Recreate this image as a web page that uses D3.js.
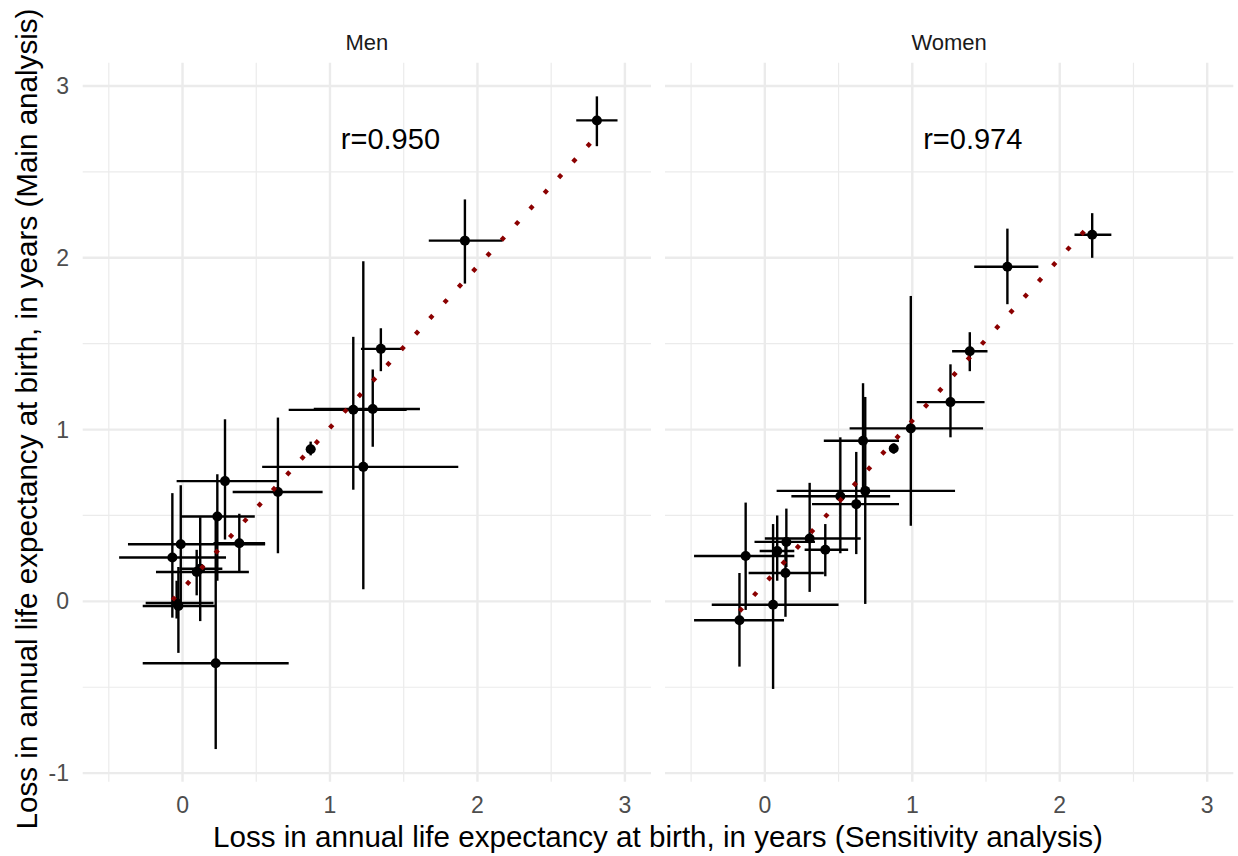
<!DOCTYPE html>
<html>
<head>
<meta charset="utf-8">
<script src="https://cdnjs.cloudflare.com/ajax/libs/d3/7.8.5/d3.min.js"></script>
<style>
  body { margin: 0; background: #fff; }
  text { font-family: "Liberation Sans", Arial, sans-serif; }
</style>
</head>
<body>
<svg width="1238" height="856"></svg>
<script>

// facet names and correlation labels
var panels = ["Men", "Women"];
var rLabels = ["r=0.950", "r=0.974"];

// Men: sensitivity (x) vs main (y) with 95% intervals
var menX   = [2.81, 1.915, 1.345, 1.158, 1.29, 1.226, 0.869, 0.647, 0.288, 0.236, 0.385, -0.012, -0.069, 0.096, 0.12, -0.028, -0.04, 0.225];
var menY   = [2.80, 2.10, 1.47, 1.115, 1.12, 0.783, 0.886, 0.637, 0.70, 0.494, 0.338, 0.332, 0.255, 0.171, 0.19, -0.027, -0.01, -0.36];
var menXlo = [2.67, 1.67, 1.21, 0.72, 0.89, 0.54, 0.84, 0.34, -0.04, -0.01, 0.21, -0.37, -0.43, -0.18, -0.02, -0.27, -0.25, -0.27];
var menXhi = [2.95, 2.17, 1.50, 1.52, 1.61, 1.87, 0.90, 0.95, 0.64, 0.49, 0.56, 0.56, 0.295, 0.45, 0.27, 0.22, 0.21, 0.72];
var menYlo = [2.65, 1.85, 1.34, 0.65, 0.90, 0.07, 0.85, 0.28, 0.36, 0.12, 0.165, -0.01, -0.095, 0.035, -0.115, -0.30, -0.10, -0.86];
var menYhi = [2.94, 2.34, 1.59, 1.54, 1.35, 1.98, 0.93, 1.07, 1.06, 0.74, 0.51, 0.676, 0.63, 0.30, 0.49, 0.20, 0.12, 0.50];

// Women
var womX   = [2.22, 1.645, 1.39, 1.259, 0.99, 0.874, 0.666, 0.681, 0.512, 0.62, 0.304, 0.41, 0.146, 0.084, 0.14, -0.13, 0.056, -0.172];
var womY   = [2.134, 1.948, 1.456, 1.16, 1.007, 0.89, 0.935, 0.643, 0.612, 0.566, 0.366, 0.30, 0.346, 0.293, 0.165, 0.264, -0.02, -0.11];
var womXlo = [2.10, 1.42, 1.27, 1.03, 0.575, 0.85, 0.40, 0.08, 0.18, 0.32, 0.0, 0.27, -0.07, -0.035, -0.11, -0.48, -0.36, -0.48];
var womXhi = [2.35, 1.855, 1.51, 1.49, 1.48, 0.90, 0.91, 1.29, 0.85, 0.91, 0.65, 0.565, 0.34, 0.20, 0.40, 0.20, 0.50, 0.13];
var womYlo = [2.0, 1.73, 1.34, 0.955, 0.44, 0.86, 0.62, -0.015, 0.28, 0.275, 0.055, 0.146, 0.20, 0.12, -0.09, -0.05, -0.51, -0.38];
var womYhi = [2.26, 2.17, 1.567, 1.38, 1.778, 0.92, 1.27, 1.19, 0.955, 0.87, 0.69, 0.45, 0.54, 0.50, 0.33, 0.575, 0.45, 0.165];

var xTicks = [0, 1, 2, 3];
var yTicks = [-1, 0, 1, 2, 3];

var svg = d3.select("svg");

var panelTop = 62.7, panelBottom = 781.7;
var panelW = 568.3, gap = 14, left0 = 82.7;

var y = d3.scaleLinear().domain([-1.05, 3.136]).range([panelBottom, panelTop]);

function build(xs, ys, xlo, xhi, ylo, yhi) {
    return xs.map(function (d, i) {
        return {x: d, y: ys[i], xlo: xlo[i], xhi: xhi[i], ylo: ylo[i], yhi: yhi[i]};
    });
}

var data = [
    build(menX, menY, menXlo, menXhi, menYlo, menYhi),
    build(womX, womY, womXlo, womXhi, womYlo, womYhi)
];

var grid = "#EBEBEB";

panels.forEach(function (name, p) {

    var x0 = left0 + p * (panelW + gap);
    var x = d3.scaleLinear().domain([-0.677, 3.177]).range([x0, x0 + panelW]);
    var g = svg.append("g").attr("id", name);
    var pts = data[p];

    // minor grid
    var xMinor = [-0.5, 0.5, 1.5, 2.5];
    var yMinor = [-0.5, 0.5, 1.5, 2.5];
    g.selectAll(".xmin").data(xMinor).enter().append("line")
        .attr("x1", function (d) { return x(d); }).attr("x2", function (d) { return x(d); })
        .attr("y1", panelTop).attr("y2", panelBottom)
        .attr("stroke", grid).attr("stroke-width", 1.2);
    g.selectAll(".ymin").data(yMinor).enter().append("line")
        .attr("y1", function (d) { return y(d); }).attr("y2", function (d) { return y(d); })
        .attr("x1", x0).attr("x2", x0 + panelW)
        .attr("stroke", grid).attr("stroke-width", 1.2);

    // major grid
    g.selectAll(".xmaj").data(xTicks).enter().append("line")
        .attr("x1", function (d) { return x(d); }).attr("x2", function (d) { return x(d); })
        .attr("y1", panelTop).attr("y2", panelBottom)
        .attr("stroke", grid).attr("stroke-width", 2.4);
    g.selectAll(".ymaj").data(yTicks).enter().append("line")
        .attr("y1", function (d) { return y(d); }).attr("y2", function (d) { return y(d); })
        .attr("x1", x0).attr("x2", x0 + panelW)
        .attr("stroke", grid).attr("stroke-width", 2.4);

    // x tick labels
    g.selectAll(".xt").data(xTicks).enter().append("text")
        .attr("x", function (d) { return x(d); })
        .attr("y", 813)
        .attr("text-anchor", "middle")
        .attr("font-size", 23)
        .attr("fill", "#4D4D4D")
        .text(function (d) { return d; });

    // strip label
    g.append("text")
        .attr("x", x0 + panelW / 2)
        .attr("y", 50)
        .attr("text-anchor", "middle")
        .attr("font-size", 22)
        .attr("fill", "#1A1A1A")
        .text(name);

    // error bars
    g.selectAll(".eh").data(pts).enter().append("line")
        .attr("x1", function (d) { return x(d.xlo); }).attr("x2", function (d) { return x(d.xhi); })
        .attr("y1", function (d) { return y(d.y); }).attr("y2", function (d) { return y(d.y); })
        .attr("stroke", "#000").attr("stroke-width", 2.4);
    g.selectAll(".ev").data(pts).enter().append("line")
        .attr("x1", function (d) { return x(d.x); }).attr("x2", function (d) { return x(d.x); })
        .attr("y1", function (d) { return y(d.ylo); }).attr("y2", function (d) { return y(d.yhi); })
        .attr("stroke", "#000").attr("stroke-width", 2.4);

    g.selectAll("circle").data(pts).enter().append("circle")
        .attr("cx", function (d) { return x(d.x); })
        .attr("cy", function (d) { return y(d.y); })
        .attr("r", 5)
        .attr("fill", "#000");

    // least squares line over the x range of the points
    var mx = d3.mean(pts, function (d) { return d.x; });
    var my = d3.mean(pts, function (d) { return d.y; });
    var sxy = d3.sum(pts, function (d) { return (d.x - mx) * (d.y - my); });
    var sxx = d3.sum(pts, function (d) { return (d.x - mx) * (d.x - mx); });
    var b = sxy / sxx, a = my - b * mx;
    var ext = d3.extent(pts, function (d) { return d.x; });

    g.append("line")
        .attr("x1", x(ext[0])).attr("y1", y(a + b * ext[0]))
        .attr("x2", x(ext[1])).attr("y2", y(a + b * ext[1]))
        .attr("stroke", "#8B0000")
        .attr("stroke-width", 4.4)
        .attr("stroke-dasharray", "4.4,16.8");

    // correlation text
    g.append("text")
        .attr("x", x(1.41))
        .attr("y", y(2.69))
        .attr("dy", "0.35em")
        .attr("text-anchor", "middle")
        .attr("font-size", 29)
        .attr("fill", "#000")
        .text(rLabels[p]);
});

// y tick labels
svg.selectAll(".yt").data(yTicks).enter().append("text")
    .attr("x", 69)
    .attr("y", function (d) { return y(d); })
    .attr("dy", "0.35em")
    .attr("text-anchor", "end")
    .attr("font-size", 23)
    .attr("fill", "#4D4D4D")
    .text(function (d) { return d; });

// axis titles
svg.append("text")
    .attr("x", (left0 + left0 + 2 * panelW + gap) / 2)
    .attr("y", 847)
    .attr("text-anchor", "middle")
    .attr("font-size", 29.6)
    .text("Loss in annual life expectancy at birth, in years (Sensitivity analysis)");

svg.append("text")
    .attr("transform", "translate(37,419) rotate(-90)")
    .attr("text-anchor", "middle")
    .attr("font-size", 29.6)
    .text("Loss in annual life expectancy at birth, in years (Main analysis)");

</script>
</body>
</html>
